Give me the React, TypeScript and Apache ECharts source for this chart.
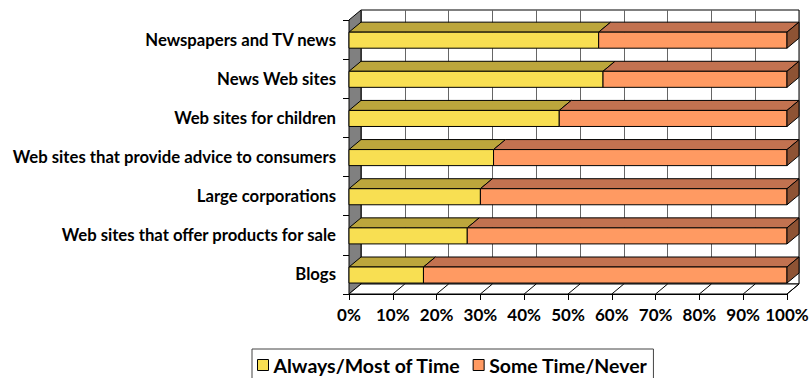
import React, { useEffect, useRef } from "react";
import * as echarts from "echarts";

const categories = [
  "Newspapers and TV news",
  "News Web sites",
  "Web sites for children",
  "Web sites that provide advice to consumers",
  "Large corporations",
  "Web sites that offer products for sale",
  "Blogs",
];
const alwaysMost = [57, 58, 48, 33, 30, 27, 17];
const someNever = [43, 42, 52, 67, 70, 73, 83];
const seriesNames = ["Always/Most of Time", "Some Time/Never"];

const FONT = "Lato";
const DX = 12;
const DY = 10;

const faceColors = [
  { front: "#F8DF52", top: "#BCA63C", side: "#8C7A2A" },
  { front: "#FF9A62", top: "#C27250", side: "#8E5334" },
];

export default function App() {
  const ref = useRef<HTMLDivElement>(null);
  useEffect(() => {
    if (!ref.current) return;
    const chart = echarts.init(ref.current, null, { renderer: "svg" });

    const makeBarData = (si: number) =>
      categories.map((_, i) => {
        const start = si === 0 ? 0 : alwaysMost[i];
        const end = si === 0 ? alwaysMost[i] : alwaysMost[i] + someNever[i];
        return [i, start, end];
      });

    const barRender = (si: number) => (params: any, api: any) => {
      const cat = api.value(0);
      const start = api.value(1);
      const end = api.value(2);
      const p0 = api.coord([start, cat]);
      const p1 = api.coord([end, cat]);
      const band = api.size([0, 1])[1];
      const h = band * 0.41;
      const yc = p0[1] + 0.6;
      const yt = yc - h / 2;
      const yb = yc + h / 2;
      const x0 = p0[0];
      const x1 = p1[0];
      const c = faceColors[si];
      const children: any[] = [
        {
          type: "polygon",
          shape: {
            points: [
              [x0, yt],
              [x1, yt],
              [x1 + DX, yt - DY],
              [x0 + DX, yt - DY],
            ],
          },
          style: { fill: c.top, stroke: "#000", lineWidth: 1 },
        },
        {
          type: "rect",
          shape: { x: x0, y: yt, width: x1 - x0, height: yb - yt },
          style: { fill: c.front, stroke: "#000", lineWidth: 1 },
        },
      ];
      if (si === 1) {
        children.push({
          type: "polygon",
          shape: {
            points: [
              [x1, yt],
              [x1 + DX, yt - DY],
              [x1 + DX, yb - DY],
              [x1, yb],
            ],
          },
          style: { fill: c.side, stroke: "#000", lineWidth: 1 },
        });
      }
      return { type: "group", children };
    };

    const frameRender = (params: any, api: any) => {
      const cs = params.coordSys;
      const left = cs.x;
      const top = cs.y;
      const bottom = cs.y + cs.height;
      const right = cs.x + cs.width;
      const children: any[] = [
        {
          type: "polygon",
          shape: {
            points: [
              [left, top],
              [left + DX, top - DY],
              [left + DX, bottom - DY],
              [left, bottom],
            ],
          },
          style: { fill: "#808080", stroke: "#000", lineWidth: 1 },
        },
        {
          type: "polygon",
          shape: {
            points: [
              [left, bottom],
              [right, bottom],
              [right + DX, bottom - DY],
              [left + DX, bottom - DY],
            ],
          },
          style: { fill: "#fff", stroke: "#000", lineWidth: 1 },
        },
      ];
      for (let v = 10; v <= 100; v += 10) {
        const x = api.coord([v, 0])[0];
        children.push({
          type: "line",
          shape: { x1: x, y1: bottom, x2: x + DX, y2: bottom - DY },
          style: { stroke: "#000", lineWidth: 1 },
        });
      }
      return { type: "group", children };
    };

    chart.setOption({
      animation: false,
      backgroundColor: "#fff",
      textStyle: { fontFamily: FONT },
      grid: [
        { left: 349, right: 22, top: 20, bottom: 84, outerBoundsMode: "none", containLabel: false },
        {
          left: 361,
          right: 10,
          top: 10,
          bottom: 94,
          show: true,
          backgroundColor: "#fff",
          borderColor: "#000",
          borderWidth: 1,
          outerBoundsMode: "none",
          containLabel: false,
        },
      ],
      xAxis: [
        {
          type: "value",
          gridIndex: 0,
          min: 0,
          max: 100,
          interval: 10,
          axisLine: { show: true, lineStyle: { color: "#000" } },
          axisTick: { show: true, length: 6, lineStyle: { color: "#000" } },
          splitLine: { show: false },
          axisLabel: {
            formatter: "{value}%",
            color: "#000",
            fontWeight: "bold",
            fontSize: 17,
            fontFamily: FONT,
            margin: 12,
            hideOverlap: false,
          },
          z: 0,
        },
        {
          type: "value",
          gridIndex: 1,
          min: 0,
          max: 100,
          interval: 10,
          axisLine: { show: false },
          axisTick: { show: false },
          axisLabel: { show: false },
          splitLine: { show: true, lineStyle: { color: "#666", width: 1 } },
        },
      ],
      yAxis: [
        {
          type: "category",
          gridIndex: 0,
          inverse: true,
          data: categories,
          axisLine: { show: true, lineStyle: { color: "#000" } },
          axisTick: { show: true, length: 6, lineStyle: { color: "#000" } },
          axisLabel: {
            color: "#000",
            fontWeight: "bold",
            fontSize: 16.7,
            fontFamily: FONT,
            margin: 13,
          },
        },
        {
          type: "category",
          gridIndex: 1,
          inverse: true,
          data: categories,
          show: false,
        },
      ],
      legend: {
        left: 252,
        top: 349,
        orient: "horizontal",
        borderColor: "#444",
        borderWidth: 1,
        padding: [6, 6, 8, 5],
        itemGap: 12,
        itemWidth: 11,
        itemHeight: 11,
        icon: "rect",
        textStyle: { color: "#000", fontWeight: "bold", fontSize: 19.5, fontFamily: FONT },
        data: seriesNames.map((n, i) => ({
          name: n,
          itemStyle: { color: faceColors[i].front, borderColor: "#000", borderWidth: 1 },
        })),
      },
      series: [
        {
          type: "custom",
          name: "frame",
          xAxisIndex: 0,
          yAxisIndex: 0,
          renderItem: frameRender,
          data: [[0]],
          silent: true,
          z: 1,
        },
        ...seriesNames.map((name, si) => ({
          type: "custom",
          name,
          xAxisIndex: 0,
          yAxisIndex: 0,
          renderItem: barRender(si),
          itemStyle: { color: faceColors[si].front, borderColor: "#000", borderWidth: 1 },
          encode: { x: [1, 2], y: 0 },
          data: makeBarData(si),
          z: 2,
        })),
      ],
    });
    return () => chart.dispose();
  }, []);
  return (
    <div
      ref={ref}
      style={{ position: "fixed", left: 0, top: 0, width: 809, height: 378 }}
    />
  );
}
